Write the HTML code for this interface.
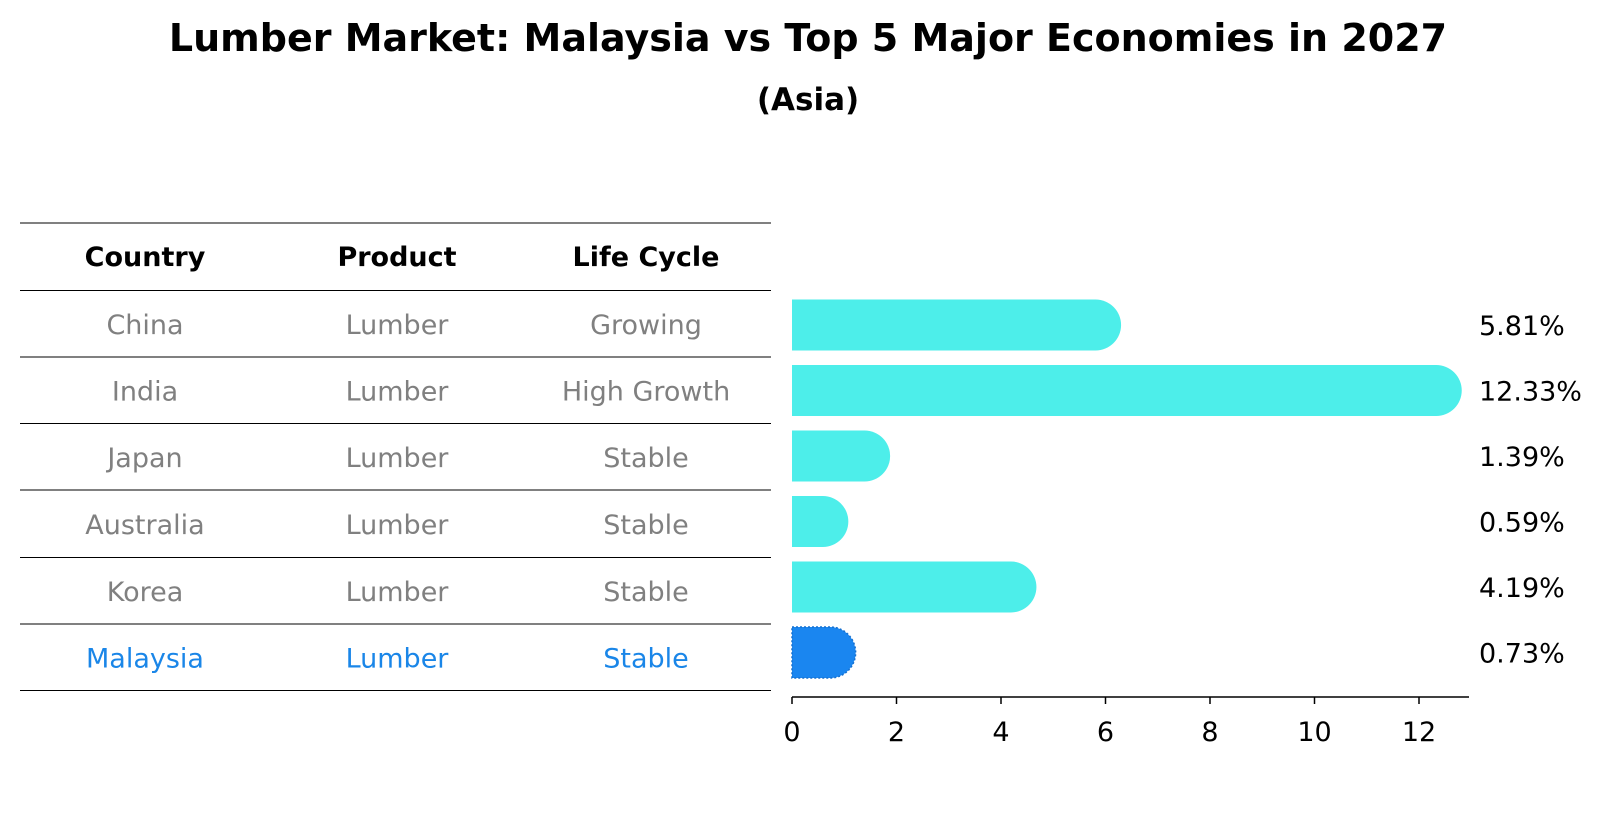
<!DOCTYPE html>
<html><head><meta charset="utf-8"><style>
body{margin:0;background:#fff;font-family:"Liberation Sans","DejaVu Sans",sans-serif;}
</style></head><body>
<svg width="1604" height="823" xmlns="http://www.w3.org/2000/svg" font-family="DejaVu Sans, Liberation Sans, sans-serif">
<text x="808" y="51" text-anchor="middle" font-size="38" font-weight="bold">Lumber Market: Malaysia vs Top 5 Major Economies in 2027</text>
<text x="808" y="110" text-anchor="middle" font-size="31" font-weight="bold">(Asia)</text>
<g id="table"></g>
<g id="bars"></g>
</svg>
<script>
const countries=["China","India","Japan","Australia","Korea","Malaysia"];
const products=["Lumber","Lumber","Lumber","Lumber","Lumber","Lumber"];
const cycles=["Growing","High Growth","Stable","Stable","Stable","Stable"];
const values=[5.81,12.33,1.39,0.59,4.19,0.73];
const labels=["5.81%","12.33%","1.39%","0.59%","4.19%","0.73%"];
const ticks=[0,2,4,6,8,10,12];
const NS="http://www.w3.org/2000/svg";
const tbl=document.getElementById('table'),bars=document.getElementById('bars');
function mk(tag,attrs,parent,txt){const e=document.createElementNS(NS,tag);for(const k in attrs)e.setAttribute(k,attrs[k]);if(txt!==undefined)e.textContent=txt;parent.appendChild(e);return e;}
const colX=[145,397,646];
const lineY=[223,290.5,357,423.5,490,557.5,624,690.5];
lineY.forEach((y,i)=>{const l=mk('line',{x1:20,x2:771,y1:y,y2:y,stroke:'#000','stroke-width':1},tbl);

});
["Country","Product","Life Cycle"].forEach((h,i)=>{const t=mk('text',{x:colX[i],y:266,'text-anchor':'middle','font-size':27,'font-weight':'bold'},tbl,h);

});
const xs=v=>792+v*52.25;
const rowY=i=>325+i*65.5;
countries.forEach((c,i)=>{
 const col=i===countries.length-1?'#1a86e8':'#808080';
 const cy=(lineY[i+1]+lineY[i+2])/2+10;
 [c,products[i],cycles[i]].forEach((s,j)=>{const t=mk('text',{x:colX[j],y:cy,'text-anchor':'middle','font-size':27,fill:col},tbl,s);
 
 });
 const yc=rowY(i),h=51,r=25.5,xe=xs(values[i]);
 const isM=i===countries.length-1;
 const p=mk('path',{d:`M${xs(0)},${yc-h/2} L${xe},${yc-h/2} A${r},${r} 0 0 1 ${xe},${yc+h/2} L${xs(0)},${yc+h/2} Z`,fill:isM?'#1a86f0':'#4deeea',stroke:isM?'#1570d0':'none','stroke-dasharray':isM?'2,2':'none','stroke-width':isM?1.5:0},bars);
 
 
 const t=mk('text',{x:1479,y:yc+10,'font-size':27,fill:'#000'},bars,labels[i]);
 
 
});
const ax=mk('line',{x1:792,x2:1469,y1:697,y2:697,stroke:'#000','stroke-width':1.5},bars);


ticks.forEach(v=>{const l=mk('line',{x1:xs(v),x2:xs(v),y1:697,y2:704,stroke:'#000','stroke-width':1.5},bars);


const t=mk('text',{x:xs(v),y:741,'text-anchor':'middle','font-size':27},bars,String(v));

});
</script>
</body></html>
